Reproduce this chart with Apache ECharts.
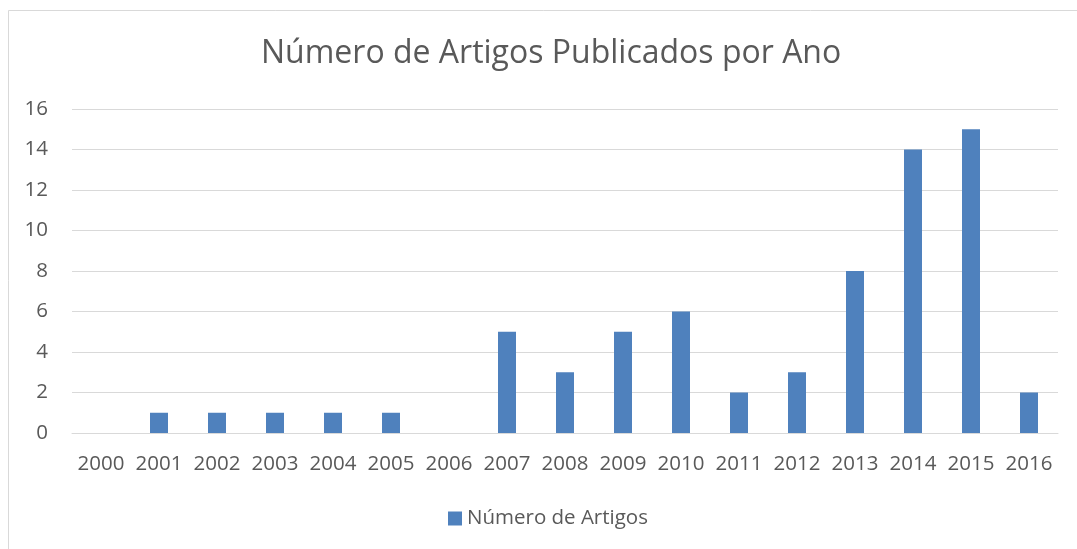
<!DOCTYPE html>
<html>
<head>
<meta charset="utf-8">
<script src="https://cdn.jsdelivr.net/npm/echarts@6/dist/echarts.min.js"></script>
<style>
  html, body { margin: 0; padding: 0; background: #fff; }
  #chart { width: 1077px; height: 549px; }
</style>
</head>
<body>
<div id="chart"></div>
<script>
  // dados
  const anos = ['2000', '2001', '2002', '2003', '2004', '2005', '2006', '2007', '2008',
    '2009', '2010', '2011', '2012', '2013', '2014', '2015', '2016'];
  const artigos = [0, 1, 1, 1, 1, 1, 0, 5, 3, 5, 6, 2, 3, 8, 14, 15, 2];
  const serieNome = 'Número de Artigos';
  const titulo = 'Número de Artigos Publicados por Ano';

  const corTexto = '#595959';
  const corGrade = '#d9d9d9';
  const fonte = '"Open Sans", sans-serif';

  const chart = echarts.init(document.getElementById('chart'), null, { renderer: 'canvas' });
  const option = {
    animation: false,
    backgroundColor: '#fff',
    color: ['#4f81bd'],
    textStyle: { fontFamily: fonte, color: corTexto },
    graphic: [{
      type: 'rect',
      shape: { x: 8.5, y: 10.5, width: 1100, height: 600 },
      style: { fill: 'none', stroke: corGrade, lineWidth: 1 },
      silent: true
    }],
    title: {
      text: titulo,
      left: 256,
      top: 33,
      textStyle: { fontFamily: fonte, fontSize: 32, fontWeight: 'normal', color: corTexto }
    },
    legend: {
      bottom: 15,
      left: 443,
      itemWidth: 14,
      itemHeight: 14,
      itemGap: 10,
      icon: 'rect',
      textStyle: { fontFamily: fonte, fontSize: 20.5, color: corTexto },
      data: [serieNome]
    },
    grid: { left: 72, right: 19, top: 109, bottom: 116, containLabel: false },
    xAxis: {
      type: 'category',
      data: anos,
      axisLine: { show: true, lineStyle: { color: corGrade, width: 1 } },
      axisTick: { show: false },
      axisLabel: { color: corTexto, fontSize: 20.5, fontFamily: fonte, margin: 21, interval: 0 }
    },
    yAxis: {
      type: 'value',
      min: 0,
      max: 16,
      interval: 2,
      axisLine: { show: false },
      axisTick: { show: false },
      splitLine: { lineStyle: { color: corGrade, width: 1 } },
      axisLabel: { color: corTexto, fontSize: 20.5, fontFamily: fonte, margin: 24 }
    },
    series: [{
      name: serieNome,
      type: 'bar',
      data: artigos,
      barWidth: 18,
      itemStyle: { color: '#4f81bd' }
    }]
  };
  chart.setOption(option);
</script>
</body>
</html>
